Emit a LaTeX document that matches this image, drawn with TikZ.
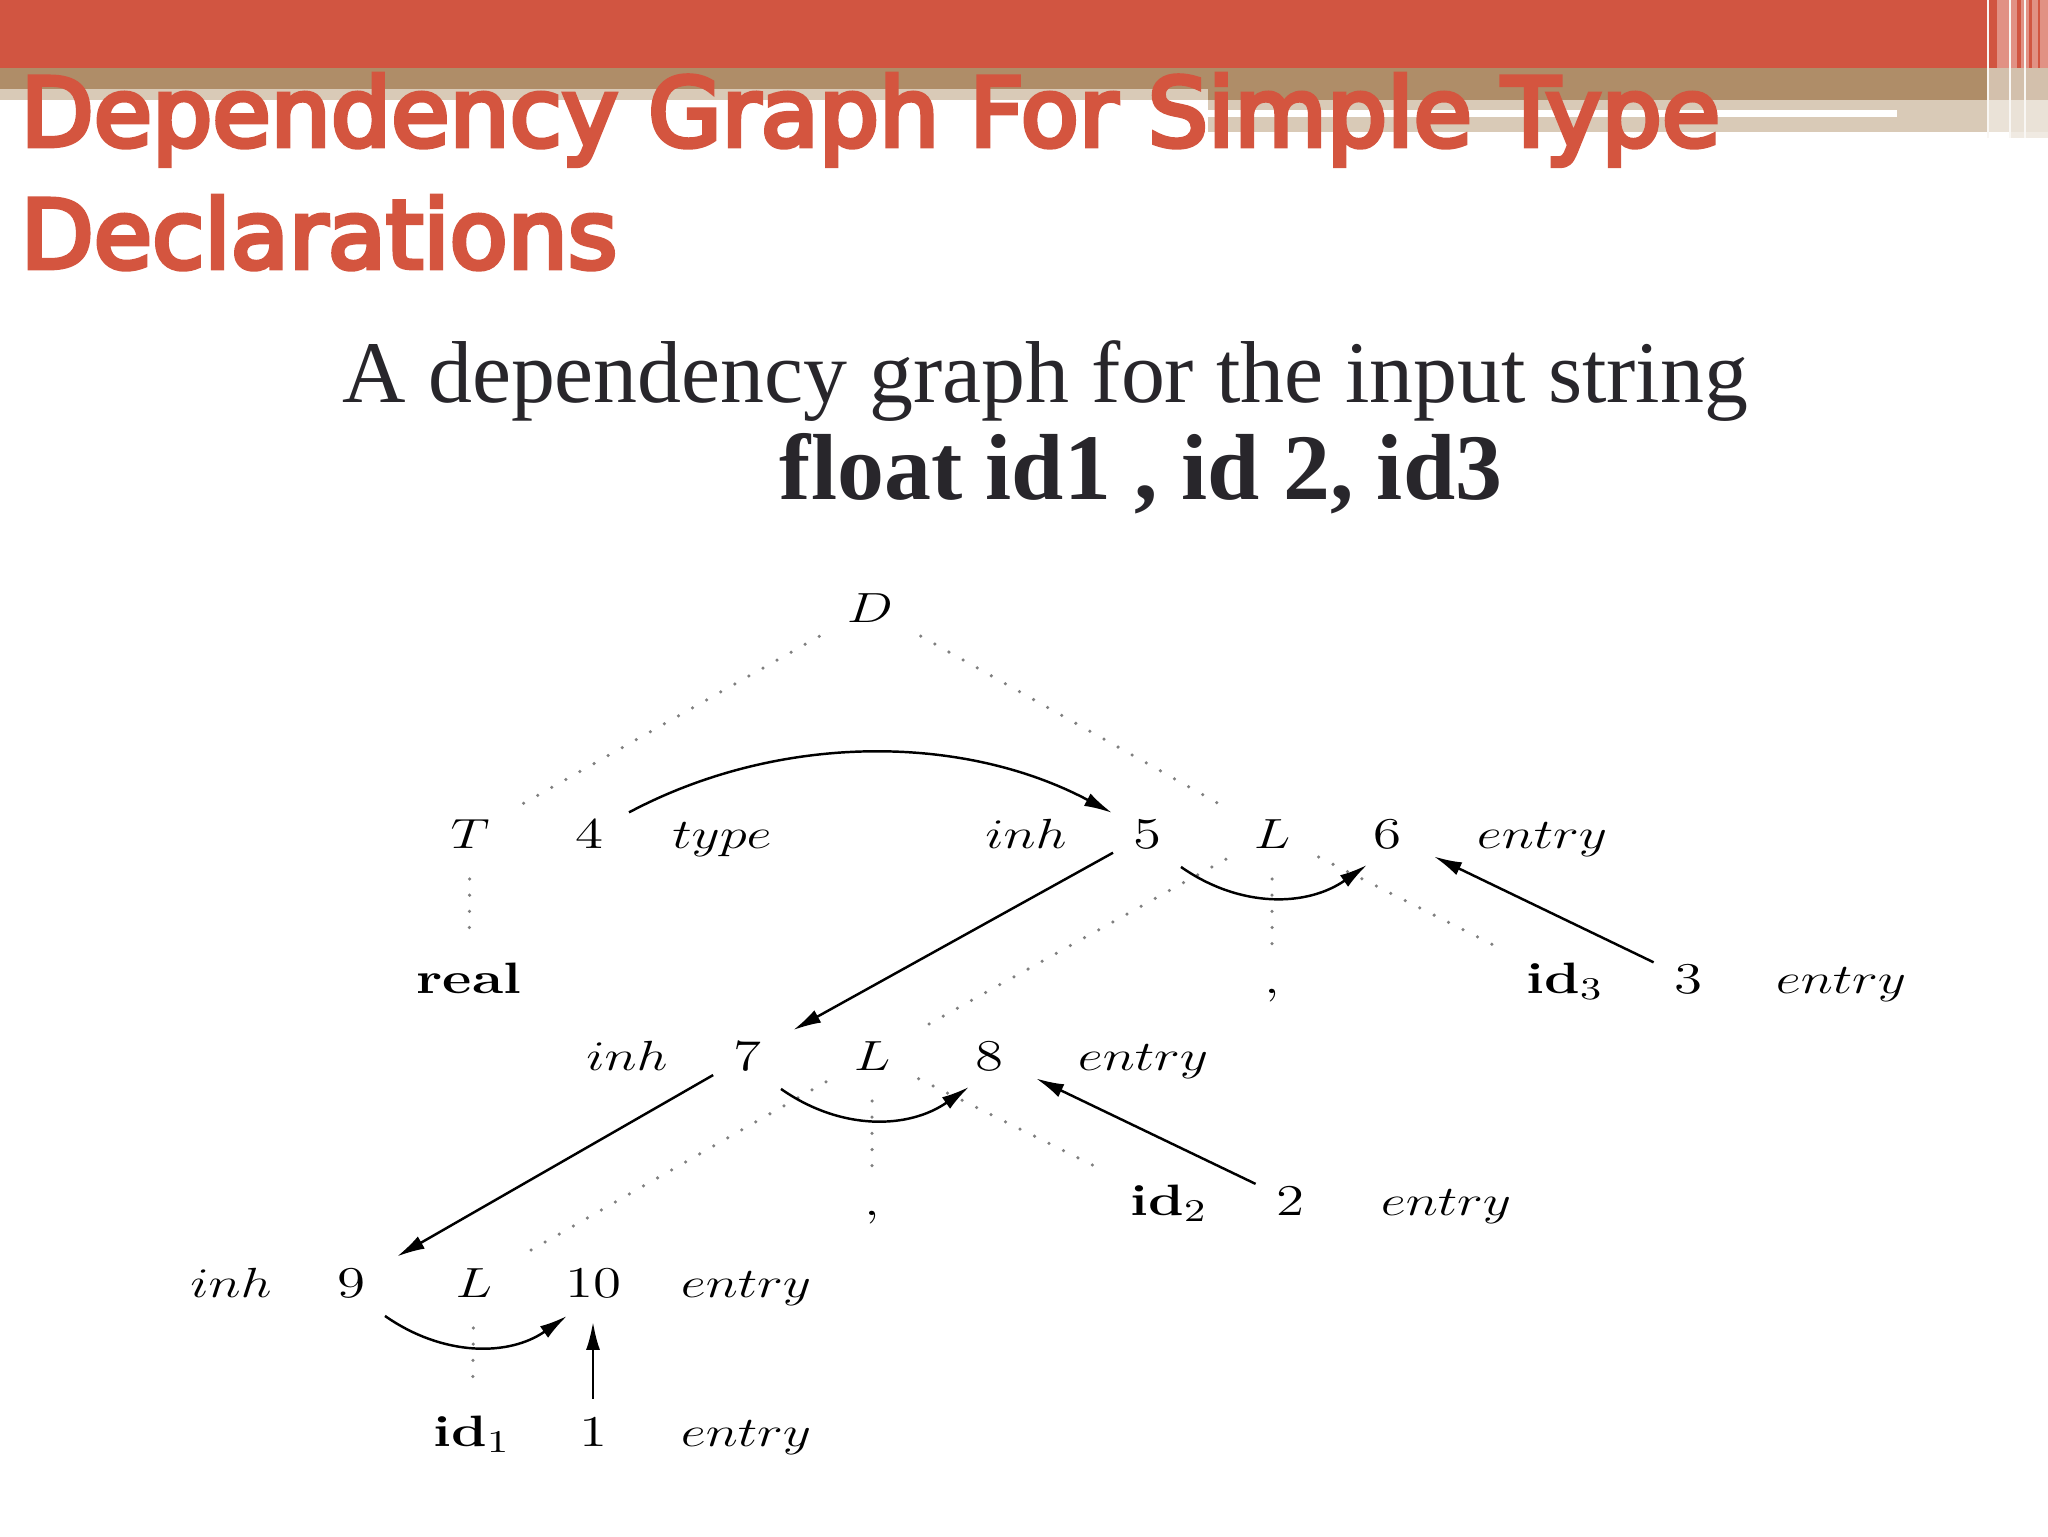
\documentclass[tikz,border=0pt]{standalone}
\usepackage{fontspec}
\usepackage{graphicx}
\usetikzlibrary{arrows.meta}
\newfontfamily\titlefont{DejaVu Sans}[FakeBold=5]
\newfontfamily\slidefont{Liberation Serif}
\definecolor{barred}{HTML}{D15541}
\definecolor{bartan}{HTML}{AF8D68}
\definecolor{barbeige}{HTML}{D9CAB7}
\definecolor{titlered}{HTML}{D4553F}
\definecolor{inkgray}{HTML}{28262B}
\definecolor{dotgray}{HTML}{7F7F7F}
% graph text is set a bit wide
\newcommand{\gw}[1]{\scalebox{1.3}[1]{#1}}
\tikzset{
  ttl/.style={anchor=base west, inner sep=0pt, text=titlered,
    font=\titlefont\fontsize{27}{30}\selectfont},
  sub/.style={anchor=base west, inner sep=0pt, text=inkgray,
    font=\slidefont\fontsize{25}{30}\selectfont},
  lbl/.style={anchor=base, inner sep=1.5pt, font=\fontsize{12.5}{15}\selectfont},
  tree/.style={dotgray, line width=1pt, line cap=round,
    dash pattern=on 0pt off 4.6pt, shorten <=2.5mm, shorten >=2.5mm},
  dep/.style={-{Latex[length=2.8mm,width=1.4mm]}, line width=0.7pt,
    shorten <=1.6mm, shorten >=3mm},
  curv/.style={-{Latex[length=2.8mm,width=1.4mm]}, line width=0.7pt},
}
\begin{document}
\begin{tikzpicture}[x=0.1mm, y=-0.1mm]
\useasboundingbox (0,0) rectangle (2048,1536);
% slide header bars
\fill[barred] (0,0) rectangle (1987,68);
\fill[bartan] (0,68) rectangle (1208,89);
\fill[barbeige] (0,89) rectangle (1208,100);
\fill[bartan] (1208,68) rectangle (1987,100);
\fill[barbeige] (1208,100) rectangle (1987,132);
\fill[white] (1208,110) rectangle (1897,117);
\fill[barred!65] (1987,0) rectangle (2048,68);
\fill[bartan!55] (1987,68) rectangle (2048,100);
\fill[barbeige!55] (1987,100) rectangle (2048,132);
\fill[barbeige!40] (2009,132) rectangle (2048,138);
\foreach \sx/\sw in {1989/8, 2017/4, 2029/3, 2038/2}
  \fill[barred] (\sx,0) rectangle ++(\sw,68);
\foreach \sx in {1987, 2009, 2024}
  \fill[white!85!barbeige] (\sx,0) rectangle ++(2,138);

\node[ttl] (ttlA) at (20,146) {Dependency Graph For Simple Type};
\node[ttl] (ttlB) at (20,268) {Declarations};
\node[sub] (subA) at (342,402) {A dependency graph for the input string};
\node[sub, anchor=base, font=\slidefont\bfseries\fontsize{26.7}{30}\selectfont]
  (subB) at (1141,499) {float id1 , id 2, id3};

% parse tree labels
\node[lbl] (nD) at (870,622) {\gw{$D$}};
\node[lbl] (nT) at (470,848) {\gw{$T$}};
\node[lbl] (n4) at (589,848) {\gw{4}};
\node[lbl] (ntype) at (722,848) {\gw{$type$}};
\node[lbl] (ninhA) at (1026,848) {\gw{$inh$}};
\node[lbl] (n5) at (1147,848) {\gw{5}};
\node[lbl] (nLA) at (1272,848) {\gw{$L$}};
\node[lbl] (n6) at (1387,848) {\gw{6}};
\node[lbl] (nentA) at (1542,848) {\gw{$entry$}};
\node[lbl] (nreal) at (469,993) {\gw{\textbf{real}}};
\node[lbl] (ncomA) at (1272,993) {\gw{,}};
\node[lbl] (nidC) at (1565,993) {\gw{\textbf{id}$_3$}};
\node[lbl] (n3) at (1688,993) {\gw{3}};
\node[lbl] (nentC) at (1841,993) {\gw{$entry$}};
\node[lbl] (ninhB) at (627,1070) {\gw{$inh$}};
\node[lbl] (n7) at (747,1070) {\gw{7}};
\node[lbl] (nLB) at (872,1070) {\gw{$L$}};
\node[lbl] (n8) at (989,1070) {\gw{8}};
\node[lbl] (nentB) at (1143,1070) {\gw{$entry$}};
\node[lbl] (ncomB) at (872,1215) {\gw{,}};
\node[lbl] (nidB) at (1169,1215) {\gw{\textbf{id}$_2$}};
\node[lbl] (n2) at (1290,1215) {\gw{2}};
\node[lbl] (nentD) at (1446,1215) {\gw{$entry$}};
\node[lbl] (ninhC) at (231,1297) {\gw{$inh$}};
\node[lbl] (n9) at (351,1297) {\gw{9}};
\node[lbl] (nLC) at (474,1297) {\gw{$L$}};
\node[lbl] (n10) at (593,1297) {\gw{10}};
\node[lbl] (nentE) at (746,1297) {\gw{$entry$}};
\node[lbl] (nidA) at (472,1446) {\gw{\textbf{id}$_1$}};
\node[lbl] (n1) at (593,1446) {\gw{1}};
\node[lbl] (nentF) at (746,1446) {\gw{$entry$}};

% parse tree edges
\draw[tree] (nD) -- (nT);
\draw[tree] (nD) -- (nLA);
\draw[tree] (nT) -- (nreal);
\draw[tree] (nLA) -- (nLB);
\draw[tree] (nLA) -- (ncomA);
\draw[tree] (nLA) -- (nidC);
\draw[tree] (nLB) -- (nLC);
\draw[tree] (nLB) -- (ncomB);
\draw[tree] (nLB) -- (nidB);
\draw[tree] (nLC) -- (nidA);

% dependency edges
\draw[curv] ([xshift=2mm]n4.north east) to[out=28,in=152,looseness=0.9] ([xshift=-1.5mm]n5.north west);
\draw[dep] (n5) -- (n7);
\draw[dep] (n7) -- (n9);
\draw[curv] ([shift={(1.4mm,-1.2mm)}]n5.south east) to[out=-35,in=-145] ([yshift=-1mm]n6.south west);
\draw[curv] ([shift={(1.4mm,-1.2mm)}]n7.south east) to[out=-35,in=-145] ([yshift=-1mm]n8.south west);
\draw[curv] ([shift={(1.4mm,-1.2mm)}]n9.south east) to[out=-35,in=-145] ([shift={(0.8mm,-1.2mm)}]n10.south west);
\draw[dep] (n3) -- (n6);
\draw[dep] (n2) -- (n8);
\draw[dep, shorten <=1.2mm, shorten >=1.8mm] (n1) -- (n10);
\end{tikzpicture}
\end{document}
